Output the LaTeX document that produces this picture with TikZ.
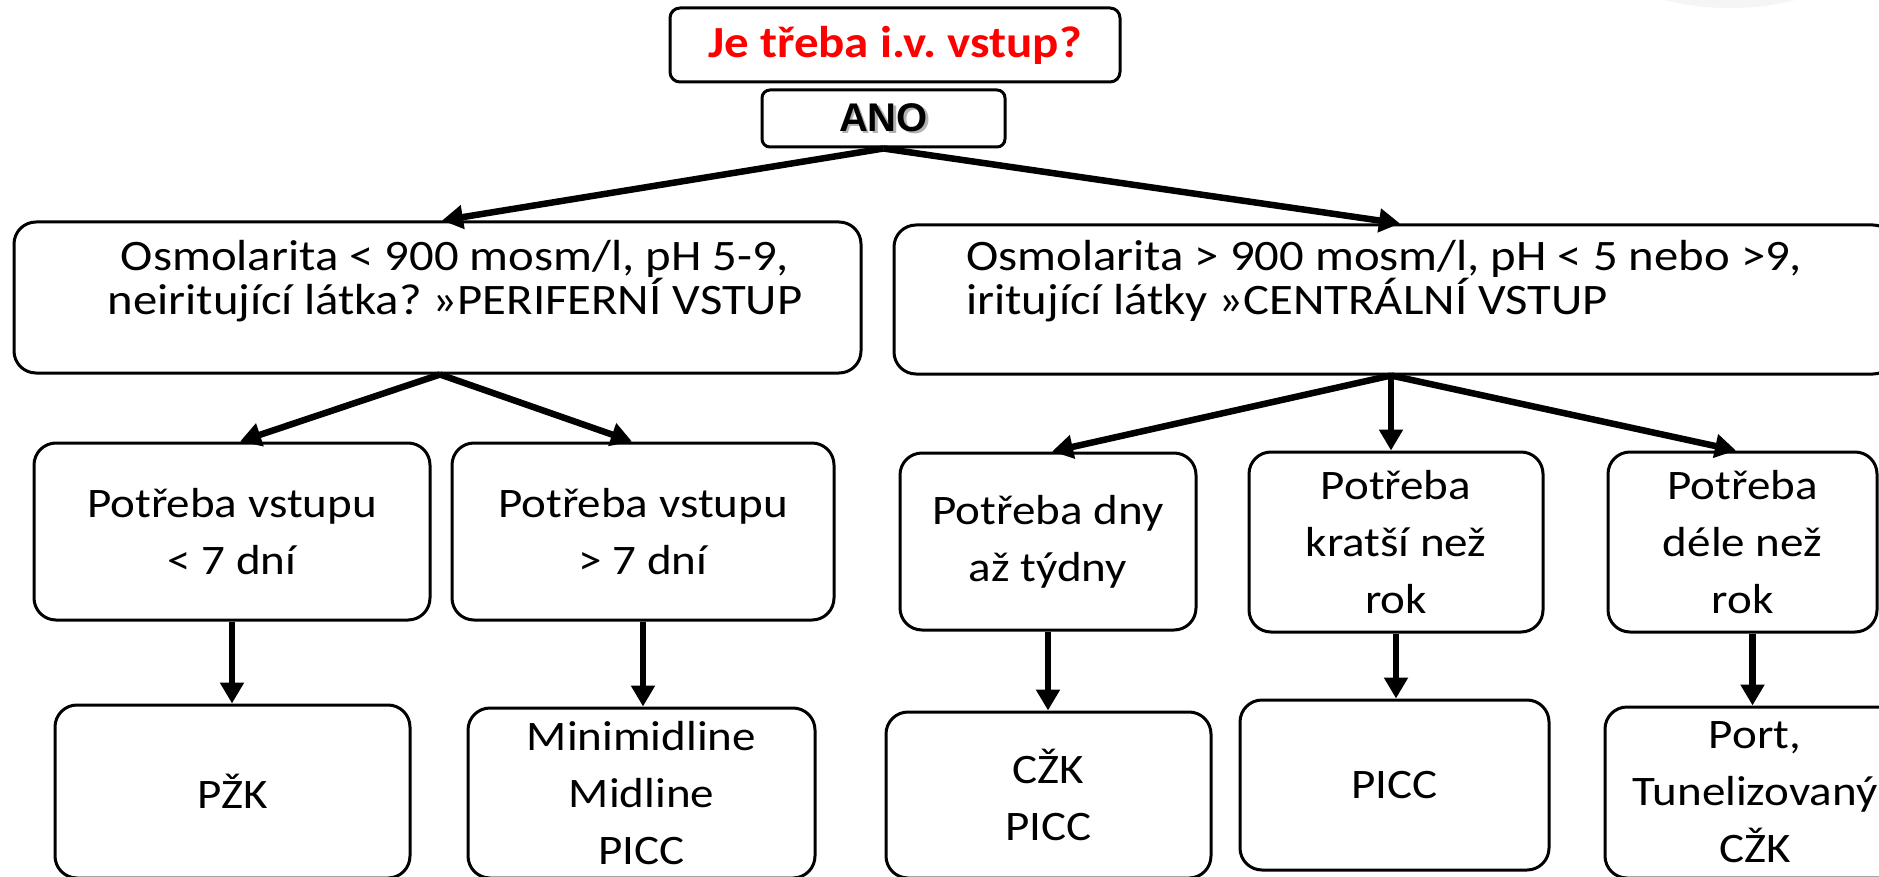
\documentclass[tikz,border=0pt]{standalone}
\usepackage{fontspec}
\setmainfont{Carlito}[FakeStretch=1.12]
\newfontfamily\titlefont{Carlito}[FakeStretch=1.1]
\newfontfamily\anofont{Liberation Sans}
\usetikzlibrary{arrows.meta,calc}
\tikzset{
  box/.style={draw, line width=3pt, rounded corners=22pt, inner sep=0pt, align=center,
    font=\fontsize{42}{57}\selectfont},
  bigtxt/.style={inner sep=0pt, font=\fontsize{43.5}{42}\selectfont},
  arr/.style={line width=6.5pt, -{Triangle[length=21pt,width=23pt]}},
}
\begin{document}
\frenchspacing
\begin{tikzpicture}[x=1pt,y=-1pt]
\useasboundingbox (0,0) rectangle (1879,877);
\clip (0,0) rectangle (1879,877);
\fill[white] (0,0) rectangle (1879,877);
\fill[black!4] (1730,-40) ellipse [x radius=118, y radius=48];

% top
\node[draw, line width=3pt, rounded corners=10pt, minimum width=450pt, minimum height=74pt, inner sep=0pt]
  (T) at (895,45) {\titlefont\fontsize{44.5}{50}\selectfont\bfseries\color{red}Je třeba i.v. vstup?};
\node[draw, line width=3pt, rounded corners=8pt, minimum width=243pt, minimum height=57pt, inner sep=0pt]
  (ANO) at (883.5,118.5) {\anofont\fontsize{40}{48}\selectfont\bfseries\rlap{\hspace{2.5pt}\raisebox{-2.5pt}{\color{black!30}ANO}}ANO};

% level 1
\node[box, minimum width=847pt, minimum height=151pt] (L) at (437.5,297.5) {};
\node[bigtxt, align=center] (Lt) at (455,281) {Osmolarita < 900 mosm/l, pH 5-9,\\neiritující látka? »PERIFERNÍ VSTUP};
\node[box, minimum width=1001pt, minimum height=149pt] (R) at (1394.5,299.5) {};
\node[bigtxt, align=left, anchor=west] (Rt) at (966,281) {Osmolarita > 900 mosm/l, pH < 5 nebo >9,\\iritující látky »CENTRÁLNÍ VSTUP};

% level 2
\node[box, minimum width=396pt, minimum height=177pt] (A) at (232,531.5) {Potřeba vstupu\\< 7 dní};
\node[box, minimum width=382pt, minimum height=177pt] (B) at (643,531.5) {Potřeba vstupu\\> 7 dní};
\node[box, minimum width=296pt, minimum height=177pt] (C) at (1048,541.5) {Potřeba dny\\až týdny};
\node[box, minimum width=294pt, minimum height=180pt] (D) at (1396,542) {Potřeba\\kratší než\\rok};
\node[box, minimum width=269pt, minimum height=180pt] (E) at (1742.5,542) {Potřeba\\déle než\\rok};

% level 3
\node[box, minimum width=355pt, minimum height=173pt] (Ap) at (232.5,791.5) {PŽK};
\node[box, minimum width=347pt, minimum height=170pt] (Bp) at (641.5,793) {Minimidline\\Midline\\PICC};
\node[box, minimum width=325pt, minimum height=166pt] (Cp) at (1048.5,795) {CŽK\\PICC};
\node[box, minimum width=309pt, minimum height=170pt] (Dp) at (1394.5,785) {PICC};
\node[box, minimum width=300pt, minimum height=171pt] (Ep) at (1755,792.5) {Port,\\Tunelizovaný\\CŽK};

% connection points
\coordinate (ls) at ([xshift=2.5pt]L.south);
\coordinate (rs) at ([xshift=-3.5pt]R.south);
\coordinate (es) at ([xshift=10pt]E.south);

% arrows
\draw[arr] (ANO.south) -- ([xshift=4.5pt]L.north);
\draw[arr] (ANO.south) -- ([xshift=5.5pt]R.north);
\draw[arr] (ls) -- ([xshift=8pt]A.north);
\draw[arr] (ls) -- ([xshift=-11pt]B.north);
\draw[arr] (rs) -- ([xshift=4pt]C.north);
\draw[arr] (rs) -- (rs |- D.north);
\draw[arr] (rs) -- ([xshift=-6.5pt]E.north);
\draw[arr] (A.south) -- (A.south |- Ap.north);
\draw[arr] (B.south) -- (B.south |- Bp.north);
\draw[arr] (C.south) -- (C.south |- Cp.north);
\draw[arr] (D.south) -- (D.south |- Dp.north);
\draw[arr] (es) -- (es |- Ep.north);
\end{tikzpicture}
\end{document}
